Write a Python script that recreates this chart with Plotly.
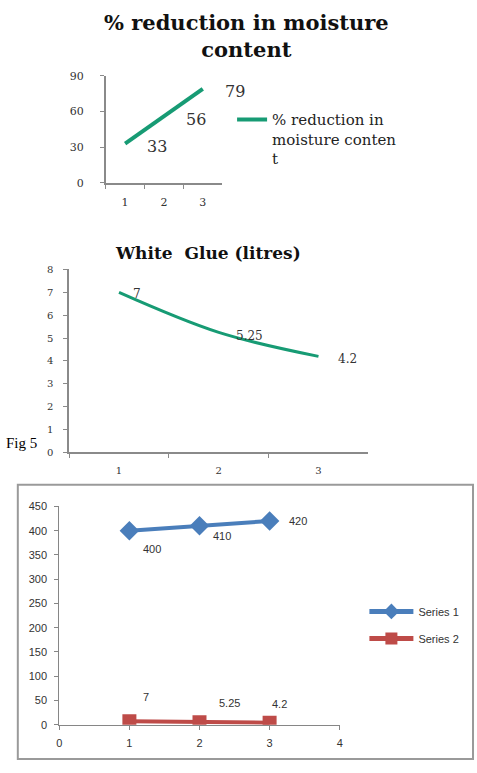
import plotly.graph_objects as go

W, H = 477, 773

# ---- data ----
c1_x = ["1", "2", "3"]
c1_y = [33, 56, 79]
c1_name = "% reduction in<br>moisture conten<br>t"
c1_yticks = [0, 30, 60, 90]

c2_x = ["1", "2", "3"]
c2_y = [7, 5.25, 4.2]
c2_yticks = [0, 1, 2, 3, 4, 5, 6, 7, 8]

c3_x = [1, 2, 3]
s1_y = [400, 410, 420]
s2_y = [7, 5.25, 4.2]
s1_labels = ["400", "410", "420"]
s2_labels = ["7", "5.25", "4.2"]

# ---- style ----
GREEN = "#179b74"
BLUE = "#4a7ebb"
RED = "#be4b48"
SERIF = "DejaVu Serif"
SANS = "Liberation Sans"

def px_x(p):
    return p / W

def px_y(p):
    return 1 - p / H

fig = go.Figure()

fig.add_trace(go.Scatter(x=c1_x, y=c1_y, mode="lines", name=c1_name,
                         line=dict(color=GREEN, width=4), xaxis="x", yaxis="y",
                         legend="legend"))
fig.add_trace(go.Scatter(x=c2_x, y=c2_y, mode="lines", showlegend=False,
                         line=dict(color=GREEN, width=3, shape="spline"),
                         xaxis="x2", yaxis="y2"))
fig.add_trace(go.Scatter(x=c3_x, y=s1_y, mode="lines+markers", name="Series 1",
                         line=dict(color=BLUE, width=4), legendgroup="s1",
                         marker=dict(symbol="diamond", size=15, color=BLUE),
                         xaxis="x3", yaxis="y3", legend="legend2"))
fig.add_trace(go.Scatter(x=c3_x, y=s2_y, mode="lines+markers", name="Series 2",
                         line=dict(color=RED, width=4), legendgroup="s2",
                         marker=dict(symbol="square", size=14, color=RED),
                         xaxis="x3", yaxis="y3", legend="legend2"))

ann = []
# chart 1 labels (category axis -> index positions)
for i, yv in enumerate(c1_y):
    ann.append(dict(x=i, y=yv, xref="x", yref="y", text=str(yv), showarrow=False,
                    xshift=32, yshift=-3, font=dict(family=SERIF, size=16, color="#333")))
# chart 2 labels  (dx right, dy down in screen px)
c2_shift = [(18, 2), (31, 4), (29, 3)]
for i, (yv, (dx, dy)) in enumerate(zip(c2_y, c2_shift)):
    ann.append(dict(x=i, y=yv, xref="x2", yref="y2", text=str(yv), showarrow=False,
                    xshift=dx, yshift=-dy, font=dict(family=SERIF, size=12, color="#333")))
# chart 3 labels
s1_shift = [(23, 18), (23, 10), (28, 0)]
s2_shift = [(17, -24), (30, -19), (10, -19)]
for xv, yv, t, (dx, dy) in zip(c3_x, s1_y, s1_labels, s1_shift):
    ann.append(dict(x=xv, y=yv, xref="x3", yref="y3", text=t, showarrow=False,
                    xshift=dx, yshift=-dy, font=dict(family=SANS, size=11, color="#333")))
for xv, yv, t, (dx, dy) in zip(c3_x, s2_y, s2_labels, s2_shift):
    ann.append(dict(x=xv, y=yv, xref="x3", yref="y3", text=t, showarrow=False,
                    xshift=dx, yshift=-dy, font=dict(family=SANS, size=11, color="#333")))

# titles
ann.append(dict(x=px_x(247), y=px_y(31), xref="paper", yref="paper", yanchor="middle",
                text="<b>% reduction in moisture<br>content</b>", showarrow=False,
                font=dict(family=SERIF, size=21, color="#111"), align="center"))
ann.append(dict(x=px_x(208), y=px_y(251), xref="paper", yref="paper", yanchor="middle",
                text="<b>White  Glue (litres)</b>", showarrow=False,
                font=dict(family=SERIF, size=17, color="#111")))
ann.append(dict(x=px_x(1), y=px_y(444), xref="paper", yref="paper", xanchor="left",
                yanchor="middle", text="Fig 5", showarrow=False,
                font=dict(family="Liberation Serif", size=15, color="#000")))

serif_axis = dict(showgrid=False, zeroline=False, showline=True, linecolor="#8a8a8a",
                  linewidth=1.5, ticks="outside", ticklen=4, tickcolor="#8a8a8a",
                  tickfont=dict(family=SERIF, size=10, color="#333"))
sans_axis = dict(showgrid=False, zeroline=False, showline=True, linecolor="#868686",
                 linewidth=1, ticks="outside", ticklen=4, tickcolor="#868686",
                 tickfont=dict(family=SANS, size=11, color="#333"))

fig.update_layout(
    width=W, height=H, margin=dict(l=0, r=0, t=0, b=0),
    paper_bgcolor="white", plot_bgcolor="white",
    xaxis=dict(serif_axis, domain=[px_x(104), px_x(222)], anchor="y", type="category",
               range=[-0.5, 2.5], tickson="boundaries", ticklabelstandoff=8,
               tickfont=dict(family=SERIF, size=11, color="#333")),
    yaxis=dict(serif_axis, domain=[px_y(180), px_y(71)], anchor="x", range=[0, 90],
               tickvals=c1_yticks, ticklabelstandoff=14,
               tickfont=dict(family=SERIF, size=11, color="#333")),
    xaxis2=dict(serif_axis, domain=[px_x(67), px_x(370)], anchor="y2", type="category",
                range=[-0.5, 2.5], tickson="boundaries", ticklabelstandoff=8),
    yaxis2=dict(serif_axis, domain=[px_y(454), px_y(268)], anchor="x2", range=[0, 8],
                tickvals=c2_yticks, ticklabelstandoff=8),
    xaxis3=dict(sans_axis, domain=[px_x(57), px_x(341)], anchor="y3", range=[0, 4],
                dtick=1, tick0=0, ticklabelstandoff=4),
    yaxis3=dict(sans_axis, domain=[px_y(731), px_y(509)], anchor="x3", range=[0, 450],
                dtick=50, tick0=0, ticklabelstandoff=5),
    legend=dict(x=px_x(232), y=px_y(99), xanchor="left", yanchor="top",
                font=dict(family=SERIF, size=15, color="#222"), valign="top",
                bgcolor="rgba(0,0,0,0)"),
    legend2=dict(x=px_x(366), y=px_y(601), xanchor="left", yanchor="top",
                 font=dict(family=SANS, size=11, color="#333"), itemsizing="constant",
                 itemwidth=44, tracegroupgap=8, bgcolor="rgba(0,0,0,0)"),
    annotations=ann,
    shapes=[dict(type="rect", xref="paper", yref="paper",
                 x0=px_x(15), x1=px_x(476), y0=px_y(766), y1=px_y(487),
                 line=dict(color="#9a9a9a", width=2))],
)

fig.write_html("out.html")
